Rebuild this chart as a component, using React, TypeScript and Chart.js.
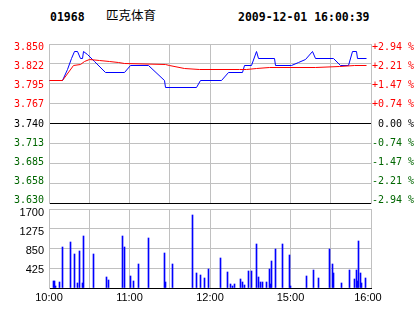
import React, { useEffect, useRef } from "react";
import { Chart, registerables } from "chart.js";

Chart.register(...registerables);

const stockCode = "01968";
const stockName = "匹克体育";
const timestamp = "2009-12-01 16:00:39";

const priceTicks = [3.63, 3.6575, 3.685, 3.7125, 3.74, 3.7675, 3.795, 3.8225, 3.85];
const priceTickLabels = ["3.630", "3.658", "3.685", "3.713", "3.740", "3.767", "3.795", "3.822", "3.850"];
const pctTickLabels = ["-2.94 %", "-2.21 %", "-1.47 %", "-0.74 %", " 0.00 %", "+0.74 %", "+1.47 %", "+2.21 %", "+2.94 %"];
const timeTicks = [0, 30, 60, 90, 120, 150, 180, 210, 240];
const timeTickLabels = ["10:00", "", "11:00", "", "12:00", "", "15:00", "", "16:00"];
const volumeTicks = [0, 425, 850, 1275, 1700];
const volumeTickLabels = ["", "425", "850", "1275", "1700"];

const priceMinutes = [0, 10, 14, 17, 19, 21, 23.5, 25.3, 26, 29, 34, 42, 56, 61, 74, 86, 87, 110, 113, 128.5, 133.5, 144, 146, 151, 155, 156, 168, 169, 180.5, 186, 191, 196.5, 199, 212, 217, 223, 226.5, 229, 230, 236.5];
const priceValues = [3.8, 3.8, 3.815, 3.83, 3.84, 3.84, 3.83, 3.83, 3.84, 3.835, 3.826, 3.81, 3.81, 3.82, 3.82, 3.8, 3.79, 3.79, 3.8, 3.8, 3.81, 3.81, 3.82, 3.82, 3.84, 3.83, 3.83, 3.82, 3.82, 3.825, 3.829, 3.84, 3.83, 3.83, 3.82, 3.82, 3.84, 3.84, 3.83, 3.83];

const avgMinutes = [0, 10, 18.5, 23.5, 26.5, 30.5, 38, 45, 52, 56, 87, 90, 101, 112, 142, 147, 154.5, 164, 199, 216.5, 228, 236.5];
const avgValues = [3.8, 3.8, 3.8198, 3.8215, 3.8257, 3.828, 3.8275, 3.8262, 3.8248, 3.8225, 3.822, 3.8198, 3.8166, 3.8143, 3.8143, 3.8152, 3.8166, 3.8176, 3.8178, 3.8188, 3.8198, 3.8198];

const volumeMinutes = [3, 4, 5, 8, 10, 16, 19, 21, 23, 25, 26, 33, 43, 44, 55, 56, 61, 63, 67, 74, 86, 87, 92, 107, 110, 113, 116, 119, 128, 133, 135, 137, 138, 143, 144, 146, 149, 151, 155, 156, 158, 159, 162, 164, 165, 166, 169, 174, 179, 180, 192, 197, 201, 209, 211, 212, 218, 224, 228, 229, 230, 231, 232, 233, 236];
const volumeValues = [151, 151, 50, 122, 882, 997, 732, 108, 796, 108, 1119, 732, 237, 172, 1119, 882, 258, 151, 516, 1069, 753, 122, 516, 1571, 315, 280, 222, 409, 646, 344, 86, 36, 86, 194, 129, 65, 366, 366, 947, 237, 129, 129, 129, 409, 86, 581, 839, 947, 710, 43, 258, 387, 215, 839, 516, 323, 108, 387, 194, 387, 151, 1011, 323, 108, 215];

const RED = "#ff0000";
const GREEN = "#006600";
const BLUE = "#0000ff";
const GRID = "#c0c0c0";
const MONO = "'DejaVu Sans Mono', monospace";
const SANS = "'Liberation Sans', Arial, sans-serif";

function labelColor(index: number): string {
  if (index > 4) return RED;
  if (index === 4) return "#000000";
  return GREEN;
}

// snap drawn marks to the pixel grid so 1px lines/bars stay crisp
const snapPlugin = {
  id: "snapPixels",
  beforeDatasetsDraw(chart: any) {
    chart.getSortedVisibleDatasetMetas().forEach((meta: any) => {
      meta.data.forEach((el: any) => {
        if (meta.type === "bar") {
          el.x = Math.floor(el.x) + 0.5;
          el.y = Math.round(el.y);
        } else {
          el.x = Math.floor(el.x) + 0.5;
          el.y = Math.floor(el.y) + 0.5;
        }
      });
    });
  },
};

export default function App() {
  const priceRef = useRef<HTMLCanvasElement | null>(null);
  const volRef = useRef<HTMLCanvasElement | null>(null);

  useEffect(() => {
    if (!priceRef.current || !volRef.current) return;

    const priceChart = new Chart(priceRef.current, {
      type: "line",
      data: {
        datasets: [
          {
            label: "均价",
            data: avgMinutes.map((m, i) => ({ x: m, y: avgValues[i] })),
            borderColor: RED,
            borderWidth: 1,
            pointRadius: 0,
            tension: 0,
            fill: false,
            yAxisID: "y",
          },
          {
            label: "价格",
            data: priceMinutes.map((m, i) => ({ x: m, y: priceValues[i] })),
            borderColor: BLUE,
            borderWidth: 1,
            pointRadius: 0,
            tension: 0,
            fill: false,
            yAxisID: "y",
          },
        ],
      },
      plugins: [snapPlugin],
      options: {
        animation: false,
        responsive: false,
        devicePixelRatio: 1,
        layout: { padding: { top: 44, left: 0, right: 0, bottom: 0 } },
        plugins: { legend: { display: false }, tooltip: { enabled: false }, title: { display: false } },
        scales: {
          x: {
            type: "linear",
            min: 0,
            max: 240,
            afterBuildTicks: (scale: any) => {
              scale.ticks = timeTicks.map((v) => ({ value: v }));
            },
            afterFit: (scale: any) => {
              scale.height = 17;
            },
            ticks: { display: false },
            grid: { color: GRID, lineWidth: 1, drawTicks: false },
            border: { display: true, color: "#000000", width: 1 },
          },
          y: {
            type: "linear",
            position: "left",
            min: 3.63,
            max: 3.85,
            afterBuildTicks: (scale: any) => {
              scale.ticks = priceTicks.map((v) => ({ value: v }));
            },
            afterFit: (scale: any) => {
              scale.width = 0;
            },
            ticks: { display: false },
            grid: {
              drawTicks: false,
              lineWidth: 1,
              color: (ctx: any) => (ctx.index === 0 || ctx.index === 4 ? "#000000" : GRID),
            },
            border: { display: false },
          },
          yLabels: {
            type: "linear",
            position: "left",
            min: 3.627,
            max: 3.8543,
            afterBuildTicks: (scale: any) => {
              scale.ticks = priceTicks.map((v) => ({ value: v }));
            },
            afterFit: (scale: any) => {
              scale.width = 49;
            },
            ticks: {
              padding: 5,
              font: { family: MONO, size: 10 },
              color: (ctx: any) => labelColor(ctx.index),
              callback: (_v: any, i: number) => priceTickLabels[i],
            },
            grid: { drawOnChartArea: false, drawTicks: false },
            border: { display: true, color: GRID, width: 1 },
          },
          yPct: {
            type: "linear",
            position: "right",
            min: 3.627,
            max: 3.8543,
            afterBuildTicks: (scale: any) => {
              scale.ticks = priceTicks.map((v) => ({ value: v }));
            },
            afterFit: (scale: any) => {
              scale.width = 43;
            },
            ticks: {
              padding: 1,
              font: { family: MONO, size: 10 },
              color: (ctx: any) => labelColor(ctx.index),
              callback: (_v: any, i: number) => pctTickLabels[i],
            },
            grid: { drawOnChartArea: false, drawTicks: false },
            border: { display: true, color: GRID, width: 1 },
          },
        },
      },
    } as any);

    const labelledVolumeTicks = volumeTicks.filter((_v, i) => volumeTickLabels[i] !== "");
    const labelledVolumeText = volumeTickLabels.filter((t) => t !== "");

    const volChart = new Chart(volRef.current, {
      type: "bar",
      data: {
        datasets: [
          {
            label: "成交量",
            data: volumeMinutes.map((m, i) => ({ x: m, y: volumeValues[i] })),
            backgroundColor: BLUE,
            borderWidth: 0,
            barThickness: 1,
            grouped: false,
            yAxisID: "y",
          },
        ],
      },
      plugins: [snapPlugin],
      options: {
        animation: false,
        responsive: false,
        devicePixelRatio: 1,
        layout: { padding: { top: 19, left: 0, right: 43, bottom: 0 } },
        plugins: { legend: { display: false }, tooltip: { enabled: false }, title: { display: false } },
        scales: {
          x: {
            type: "linear",
            min: 0,
            max: 240,
            offset: false,
            afterBuildTicks: (scale: any) => {
              scale.ticks = timeTicks.map((v) => ({ value: v }));
            },
            afterFit: (scale: any) => {
              scale.height = 26;
            },
            ticks: {
              autoSkip: false,
              maxRotation: 0,
              padding: 3,
              font: { family: SANS, size: 11 },
              color: "#000000",
              callback: (_v: any, i: number) =>
                i === timeTickLabels.length - 1 ? timeTickLabels[i] + "  " : timeTickLabels[i],
            },
            grid: { color: GRID, lineWidth: 1, drawTicks: false, offset: false },
            border: { display: true, color: "#000000", width: 1 },
          },
          y: {
            type: "linear",
            position: "left",
            min: 0,
            max: 1700,
            afterBuildTicks: (scale: any) => {
              scale.ticks = volumeTicks.map((v) => ({ value: v }));
            },
            afterFit: (scale: any) => {
              scale.width = 0;
            },
            ticks: { display: false },
            grid: { color: GRID, lineWidth: 1, drawTicks: false },
            border: { display: false },
          },
          yLabels: {
            type: "linear",
            position: "left",
            min: 27,
            max: 1782,
            afterBuildTicks: (scale: any) => {
              scale.ticks = labelledVolumeTicks.map((v) => ({ value: v }));
            },
            afterFit: (scale: any) => {
              scale.width = 49;
            },
            ticks: {
              padding: 5,
              font: { family: SANS, size: 11 },
              color: "#000000",
              callback: (_v: any, i: number) => labelledVolumeText[i],
            },
            grid: { drawOnChartArea: false, drawTicks: false },
            border: { display: true, color: GRID, width: 1 },
          },
        },
      },
    } as any);

    return () => {
      priceChart.destroy();
      volChart.destroy();
    };
  }, []);

  const headerBase: React.CSSProperties = {
    position: "absolute",
    top: 8,
    lineHeight: "18px",
    whiteSpace: "pre",
    color: "#000000",
  };

  return (
    <div style={{ position: "absolute", left: 0, top: 0, width: 414, height: 314, background: "#ffffff", overflow: "hidden" }}>
      <div style={{ ...headerBase, left: 50, fontFamily: MONO, fontWeight: "bold", fontSize: 11.5 }}>{stockCode}</div>
      <div style={{ ...headerBase, left: 106, fontFamily: "'Noto Sans CJK SC', sans-serif", fontSize: 12.5, top: 6 }}>{stockName}</div>
      <div style={{ ...headerBase, left: 238, fontFamily: MONO, fontWeight: "bold", fontSize: 11.5 }}>{timestamp}</div>
      <canvas ref={priceRef} width={414} height={220} style={{ position: "absolute", left: 0, top: 0, width: 414, height: 220, display: "block" }} />
      <canvas ref={volRef} width={414} height={124} style={{ position: "absolute", left: 0, top: 190, width: 414, height: 124, display: "block" }} />
    </div>
  );
}
